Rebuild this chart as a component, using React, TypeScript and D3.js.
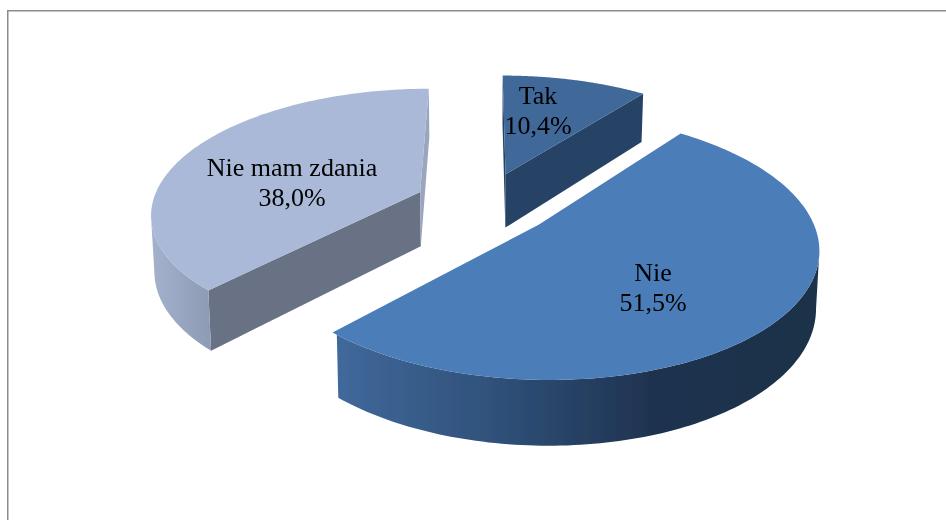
import React from "react";
import * as d3 from "d3";

const categories = ["Tak", "Nie", "Nie mam zdania"];
const values = [10.4, 51.5, 38.0];
const valueLabels = ["10,4%", "51,5%", "38,0%"];
const topColors = ["#3F6898", "#4C7DB9", "#A9B9D7"];
const cutColors = ["#284265", "#1E3350", "#687284"];
const endCutColors = ["#284265", "#1E3350", "#9AA6BE"];
const wallStops = [
  [[333, 820], ["#284265", "#284265"]],
  [[333, 500, 650, 820], ["#41699C", "#2F5078", "#1F3350", "#1D3049"]],
  [[150, 218], ["#A5B2CD", "#8B98B2"]],
] as [number[], string[]][];
const labelPos = [
  [538, 104],
  [653, 281],
  [292, 176],
];

const W = 946, H = 520;
const explode = 0.26, A = 268, B = 123, P = 0.159, VX = 484, Y0 = 203.5, DEPTH = 55, BASE_SCALE = 0.99;

const arcs = d3.pie<number>().sort(null).startAngle(0).endAngle(2 * Math.PI)(values);

function project(u: number, v: number, top: boolean): [number, number] {
  const s = 1 / (1 - P * v);
  const k = top ? 1 : BASE_SCALE;
  return [VX + A * u * s * k, Y0 + B * v * s * k + (top ? 0 : DEPTH * s)];
}

const line = d3.line();

function Slice({ i }: { i: number }) {
  const a = arcs[i];
  const mid = (a.startAngle + a.endAngle) / 2;
  const cu = Math.sin(mid) * explode, cv = -Math.cos(mid) * explode;
  const pt = (t: number, top: boolean) => project(cu + Math.sin(t), cv - Math.cos(t), top);
  const n = 160;
  const angles = d3.range(n + 1).map((k) => a.startAngle + ((a.endAngle - a.startAngle) * k) / n);
  const apex = project(cu, cv, true);
  const apexLow = project(cu, cv, false);
  const topPts = [apex, ...angles.map((t) => pt(t, true))];
  const [dom, rng] = wallStops[i];
  const facing = (t: number) => {
    const p = pt(t, true), q = pt(t, false);
    return (p[0] - apex[0]) * (q[1] - p[1]) - (p[1] - apex[1]) * (q[0] - p[0]);
  };
  const cut = (t: number) => line([apex, pt(t, true), pt(t, false), apexLow])!;
  const visible = angles.filter((t, k) => k < n && pt(angles[k + 1], true)[0] < pt(t, true)[0]);
  const wall = visible.length
    ? line([...visible.map((t) => pt(t, true)), ...[...visible].reverse().map((t) => pt(t, false))])! + "Z"
    : null;
  const gid = `wall${i}`;
  return (
    <g>
      <defs>
        <linearGradient id={gid} gradientUnits="userSpaceOnUse" x1={dom[0]} x2={dom[dom.length - 1]} y1={0} y2={0}>
          {dom.map((d, k) => (
            <stop key={k} offset={(d - dom[0]) / (dom[dom.length - 1] - dom[0])} stopColor={rng[k]} />
          ))}
        </linearGradient>
      </defs>
      {facing(a.startAngle) < 0 && <path d={cut(a.startAngle)} fill={cutColors[i]} />}
      {facing(a.endAngle) > 0 && <path d={cut(a.endAngle)} fill={endCutColors[i]} />}
      {wall && <path d={wall} fill={`url(#${gid})`} />}
      <path d={line(topPts)! + "Z"} fill={topColors[i]} />
    </g>
  );
}

export default function App() {
  return (
    <svg
      width={W}
      height={H}
      viewBox={`0 0 ${W} ${H}`}
      style={{ position: "fixed", left: 0, top: 0, background: "#fff" }}
    >
      <defs>
        <filter id="soft" x="-5%" y="-5%" width="110%" height="110%">
          <feGaussianBlur stdDeviation="0.5" />
        </filter>
        <filter id="softText" x="-5%" y="-5%" width="110%" height="110%">
          <feGaussianBlur stdDeviation="0.35" />
        </filter>
      </defs>
      <path d={`M7.75 ${H}V10.75H${W}`} fill="none" stroke="#8c8c8c" strokeWidth={1.5} />
      <g filter="url(#soft)">
        <Slice i={2} />
        <Slice i={0} />
        <Slice i={1} />
      </g>
      <g fontFamily="'Liberation Serif', serif" fontSize={26} fill="#000" textAnchor="middle" filter="url(#softText)">
        {categories.map((c, i) => (
          <g key={c}>
            <text x={labelPos[i][0]} y={labelPos[i][1]}>{c}</text>
            <text x={labelPos[i][0]} y={labelPos[i][1] + 30}>{valueLabels[i]}</text>
          </g>
        ))}
      </g>
    </svg>
  );
}
